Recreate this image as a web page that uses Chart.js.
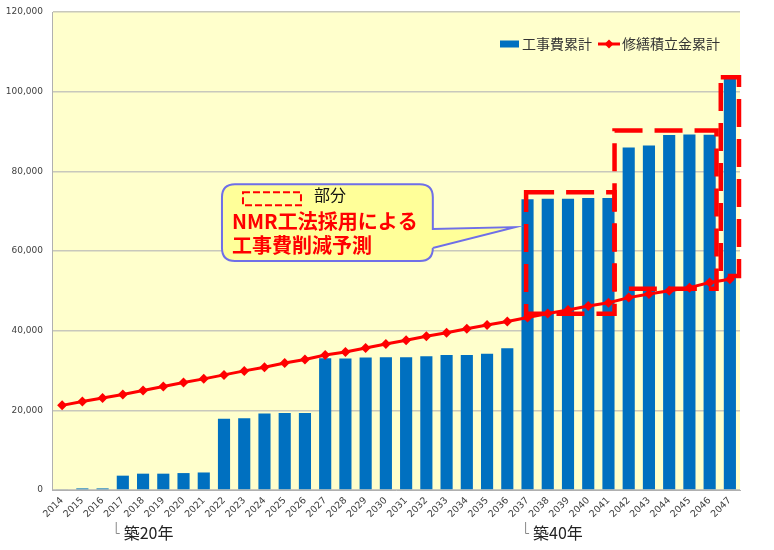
<!DOCTYPE html>
<html>
<head>
<meta charset="utf-8">
<script src="https://cdn.jsdelivr.net/npm/chart.js@4.4.1/dist/chart.umd.min.js"></script>
<style>
  html, body { margin: 0; padding: 0; background: #fff; }
  #wrap { width: 774px; height: 550px; position: relative; }
</style>
</head>
<body>
<div id="wrap"><canvas id="chart-kouji"></canvas></div>
<script>
// 年度（横軸）
const years = ['2014','2015','2016','2017','2018','2019','2020','2021','2022','2023',
  '2024','2025','2026','2027','2028','2029','2030','2031','2032','2033',
  '2034','2035','2036','2037','2038','2039','2040','2041','2042','2043',
  '2044','2045','2046','2047'];

// 工事費累計（棒）
const koujihi_ruikei = [200, 400, 400, 3600, 4100, 4100, 4250, 4400, 17900, 18000,
  19200, 19300, 19300, 33100, 33000, 33250, 33350, 33350, 33600, 33900,
  33900, 34200, 35600, 73000, 73100, 73100, 73300, 73300, 86000, 86500,
  89100, 89250, 89200, 103200];

// 修繕積立金累計（折れ線）
const shuzen_ruikei = [21250, 22200, 23100, 24000, 25000, 26000, 27000, 27900, 28900, 29900,
  30800, 31900, 32750, 33900, 34650, 35650, 36650, 37600, 38600, 39500,
  40500, 41400, 42300, 43300, 44300, 45200, 46200, 47000, 48300, 49200,
  50000, 50800, 52100, 52900];

const yTicks = [0, 20000, 40000, 60000, 80000, 100000, 120000];

// 注記（NMR工法による削減部分の点線枠）
const sakugen_waku = [
  { x0: 22.93, x1: 27.3, y0: 44250, y1: 74750 },
  { x0: 27.3, x1: 32.34, y0: 50500, y1: 90250 },
  { x0: 32.55, x1: 33.45, y0: 53750, y1: 103600 },
];
const chikunen = [
  { x: 2.65, text: '築20年' },
  { x: 22.88, text: '築40年' },
];

const FONT_JP = "'Noto Sans CJK JP', 'Noto Sans', sans-serif";

function dashedRect(ctx, l, t, r, b, width, dash) {
  ctx.save();
  ctx.strokeStyle = '#ff0000';
  ctx.lineWidth = width;
  ctx.setLineDash(dash);
  ctx.strokeRect(l, t, r - l, b - t);
  ctx.restore();
}

// プロット背景
const plotBg = {
  id: 'plotBg',
  beforeDraw(chart) {
    const { ctx, chartArea: a } = chart;
    ctx.save();
    ctx.fillStyle = '#ffffcc';
    ctx.fillRect(a.left, a.top, a.right - a.left, a.bottom - a.top);
    ctx.restore();
  }
};

// 点線枠・吹き出し・凡例・築年ラベル
const chuki = {
  id: 'chuki',
  afterDraw(chart) {
    const { ctx } = chart;
    const xs = chart.scales.x, ys = chart.scales.y;

    sakugen_waku.forEach(w => {
      dashedRect(ctx, xs.getPixelForValue(w.x0), ys.getPixelForValue(w.y1),
        xs.getPixelForValue(w.x1), ys.getPixelForValue(w.y0), 4.5, [28, 12]);
    });

    // 吹き出し
    const L = xs.getPixelForValue(7.9), R = xs.getPixelForValue(18.32);
    const T = ys.getPixelForValue(76750), B = ys.getPixelForValue(57500);
    const tipX = xs.getPixelForValue(22.38), tipY = ys.getPixelForValue(66000);
    const t1 = ys.getPixelForValue(65500), t2 = ys.getPixelForValue(60750);
    const rad = 13;
    ctx.save();
    ctx.beginPath();
    ctx.moveTo(L + rad, T);
    ctx.lineTo(R - rad, T);
    ctx.quadraticCurveTo(R, T, R, T + rad);
    ctx.lineTo(R, t1);
    ctx.lineTo(tipX, tipY);
    ctx.lineTo(R, t2);
    ctx.lineTo(R, B - rad);
    ctx.quadraticCurveTo(R, B, R - rad, B);
    ctx.lineTo(L + rad, B);
    ctx.quadraticCurveTo(L, B, L, B - rad);
    ctx.lineTo(L, T + rad);
    ctx.quadraticCurveTo(L, T, L + rad, T);
    ctx.closePath();
    ctx.fillStyle = '#ffff99';
    ctx.fill();
    ctx.strokeStyle = '#6f6fe8';
    ctx.lineWidth = 2;
    ctx.stroke();

    dashedRect(ctx, L + 21, T + 8, L + 79, T + 21, 2, [7, 3]);
    ctx.fillStyle = '#111';
    ctx.font = '16px ' + FONT_JP;
    ctx.textBaseline = 'middle';
    ctx.textAlign = 'left';
    ctx.fillText('部分', L + 92, T + 11);
    ctx.fillStyle = '#ff0000';
    ctx.font = 'bold 20px ' + FONT_JP;
    ctx.fillText('NMR工法採用による', L + 10, T + 37);
    ctx.fillText('工事費削減予測', L + 10, T + 61);
    ctx.restore();

    // 凡例
    const ds = chart.data.datasets;
    const ly = 44;
    ctx.save();
    ctx.font = '14px ' + FONT_JP;
    ctx.textBaseline = 'middle';
    ctx.fillStyle = ds[0].backgroundColor;
    ctx.fillRect(500, ly - 3.5, 19, 7);
    ctx.fillStyle = '#333';
    ctx.fillText(ds[0].label, 522, ly);
    ctx.strokeStyle = ds[1].borderColor;
    ctx.lineWidth = 3;
    ctx.beginPath();
    ctx.moveTo(598, ly);
    ctx.lineTo(620, ly);
    ctx.stroke();
    ctx.fillStyle = ds[1].borderColor;
    ctx.beginPath();
    ctx.moveTo(609, ly - 4.5);
    ctx.lineTo(613.5, ly);
    ctx.lineTo(609, ly + 4.5);
    ctx.lineTo(604.5, ly);
    ctx.closePath();
    ctx.fill();
    ctx.fillStyle = '#333';
    ctx.fillText(ds[1].label, 622, ly);
    ctx.restore();

    // 築年
    ctx.save();
    chikunen.forEach(c => {
      const x = xs.getPixelForValue(c.x);
      ctx.strokeStyle = '#888';
      ctx.lineWidth = 1;
      ctx.beginPath();
      ctx.moveTo(x + 0.5, 522);
      ctx.lineTo(x + 0.5, 533.5);
      ctx.lineTo(x + 4, 533.5);
      ctx.stroke();
      ctx.fillStyle = '#222';
      ctx.font = '16px ' + FONT_JP;
      ctx.textBaseline = 'middle';
      ctx.fillText(c.text, x + 8, 533);
    });
    ctx.restore();
  }
};

const data_kouji = {
  labels: years,
  datasets: [
    {
      type: 'bar',
      label: '工事費累計',
      data: koujihi_ruikei,
      backgroundColor: '#0070c0',
      borderWidth: 0,
      barPercentage: 0.6,
      categoryPercentage: 1.0,
      order: 2,
    },
    {
      type: 'line',
      label: '修繕積立金累計',
      data: shuzen_ruikei,
      borderColor: '#ff0000',
      backgroundColor: '#ff0000',
      borderWidth: 3,
      pointStyle: 'rectRot',
      pointRadius: 5,
      pointBorderWidth: 0,
      tension: 0,
      order: 1,
    },
  ]
};

const config_kouji = {
  type: 'bar',
  data: data_kouji,
  options: {
    responsive: true,
    maintainAspectRatio: false,
    animation: false,
    layout: { padding: { left: 0, top: 12, right: 34, bottom: 0 } },
    plugins: {
      legend: { display: false },
      tooltip: { enabled: false },
    },
    scales: {
      x: {
        grid: { display: false, drawTicks: false },
        border: { color: '#b0b0b0', width: 1 },
        ticks: {
          color: '#404040',
          font: { family: "'DejaVu Sans'", size: 9.5 },
          minRotation: 45,
          maxRotation: 45,
          autoSkip: false,
          padding: 5,
        },
        afterFit(scale) { scale.height = 60; },
      },
      y: {
        min: 0,
        max: 120000,
        afterBuildTicks(scale) { scale.ticks = yTicks.map(v => ({ value: v })); },
        grid: { color: '#c8c8bc', lineWidth: 1.5, drawTicks: true, tickLength: 6, tickColor: 'rgba(0,0,0,0)' },
        border: { color: '#b0b0b0', width: 1 },
        ticks: {
          color: '#404040',
          font: { family: "'DejaVu Sans'", size: 9 },
          padding: 3,
          callback: v => v.toLocaleString('en-US'),
        },
        afterFit(scale) { scale.width = 52; },
      },
    },
  },
  plugins: [plotBg, chuki],
};

const myChart_kouji = new Chart(
  document.getElementById('chart-kouji'),
  config_kouji
);
</script>
</body>
</html>
